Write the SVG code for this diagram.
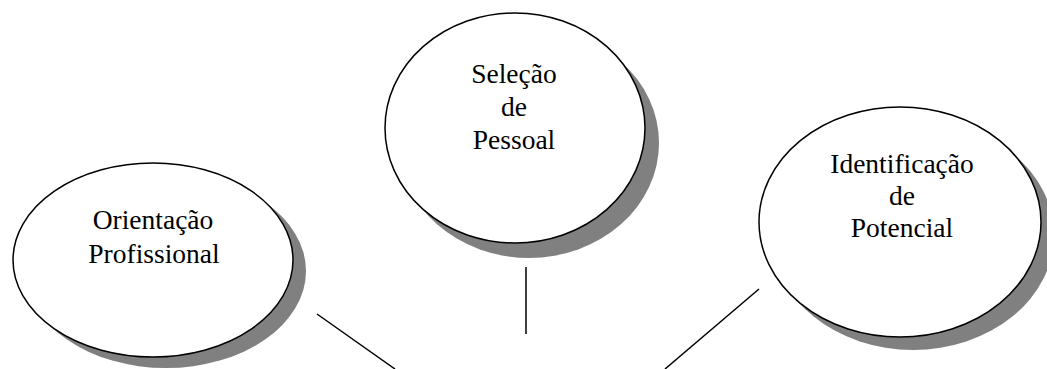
<svg xmlns="http://www.w3.org/2000/svg" width="1047" height="369" viewBox="0 0 1047 369">
<style>
.sh{fill:#808080;stroke:none}
.el{fill:#fff;stroke:#000;stroke-width:1.5}
.t{font-family:"Liberation Serif","Times New Roman",serif;font-size:27.5px;fill:#000;text-anchor:middle}
.cn{stroke:#000;stroke-width:1.5;fill:none}
</style>
<rect width="1047" height="369" fill="#fff"/>
<g id="orientacao">
<ellipse class="sh" cx="166" cy="271" rx="140" ry="97"/>
<ellipse class="el" cx="153" cy="260" rx="140" ry="97"/>
<text class="t" x="153" y="229">Orientação</text>
<text class="t" x="154" y="263">Profissional</text>
</g>
<g id="selecao">
<ellipse class="sh" cx="529" cy="143" rx="130" ry="115"/>
<ellipse class="el" cx="515" cy="128" rx="130" ry="115"/>
<text class="t" x="514" y="83">Seleção</text>
<text class="t" x="514" y="116">de</text>
<text class="t" x="514" y="149">Pessoal</text>
</g>
<g id="identificacao">
<ellipse class="sh" cx="913" cy="235" rx="141" ry="115"/>
<ellipse class="el" cx="900" cy="222" rx="141" ry="115"/>
<text class="t" x="902" y="173">Identificação</text>
<text class="t" x="902" y="205">de</text>
<text class="t" x="902" y="237">Potencial</text>
</g>
<g id="connectors">
<line class="cn" x1="317" y1="314" x2="395" y2="369"/>
<line class="cn" x1="526" y1="267" x2="526" y2="334"/>
<line class="cn" x1="759" y1="289" x2="665" y2="369"/>
</g>
</svg>
